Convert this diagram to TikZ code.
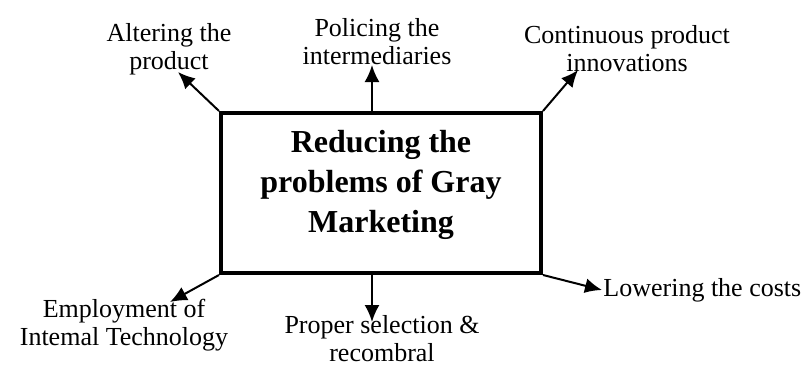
\documentclass[tikz,border=0pt]{standalone}
\usepackage{fontspec}
\setmainfont{Liberation Serif}
\usetikzlibrary{arrows.meta}

\begin{document}
\begin{tikzpicture}[x = 0.5pt, y = 0.5pt,
  lbl/.style = {align = center, font = \fontsize{13}{14}\selectfont, inner sep = 0pt},
  arr/.style = {-{Latex[length = 8.5pt, width = 7.5pt]}, line width = 1pt}]
\useasboundingbox (0, 0) rectangle (807, 365);
\node (box) at (381, 172) [draw, line width = 2pt, minimum width = 160pt, minimum height = 80pt] {};
\node (title) at (381, 180) [align = center, font = \fontsize{16}{20}\selectfont\bfseries] {Reducing the\\problems of Gray\\Marketing};
% the six ways out
\node (alter) at (169, 316) [lbl] {Altering the\\product};
\node (police) at (377, 323) [lbl] {Policing the\\intermediaries};
\node (innov) at (627, 316) [lbl] {Continuous product\\innovations};
\node (employ) at (124, 40) [lbl] {Employment of\\Intemal Technology};
\node (proper) at (382, 26) [lbl] {Proper selection \&\\recombral};
\node (lower) at (603, 75) [lbl, anchor = west] {Lowering the costs};
\coordinate (t1) at (178, 293);
\coordinate (t2) at (372, 300);
\coordinate (t3) at (578, 295);
\coordinate (t4) at (170, 63);
\coordinate (t5) at (372, 43);
\coordinate (t6) at (602, 75);
\draw[arr] (box.north west) -- (t1);
\draw[arr] (box.north -| t2) -- (t2);
\draw[arr] (box.north east) -- (t3);
\draw[arr] (box.south west) -- (t4);
\draw[arr] (box.south -| t5) -- (t5);
\draw[arr] (box.south east) -- (t6);
\end{tikzpicture}
\end{document}
